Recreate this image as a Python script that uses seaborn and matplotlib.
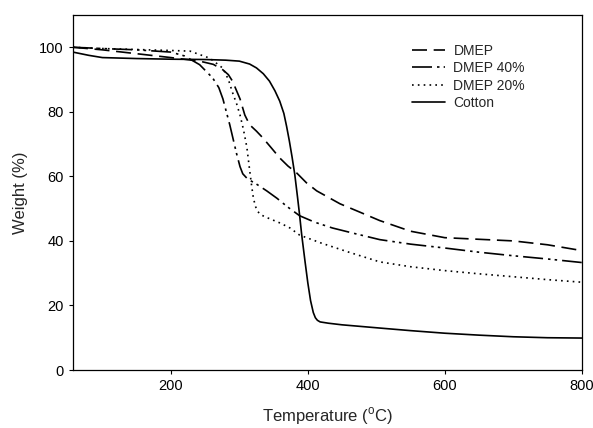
import pandas as pd
import numpy as np
import matplotlib
matplotlib.use("Agg")
import matplotlib.pyplot as plt
import seaborn as sns

# ===================== Data =====================
dmep_t = [57, 100, 150, 200, 242, 262, 276, 284, 290, 296, 301, 308, 315, 325, 334,
          346, 359, 371, 384, 398, 413, 430, 447, 475, 505, 550, 600, 650, 700, 750, 800]
dmep_w = [100, 99.2, 98, 96.8, 95.7, 94.7, 93, 91.5, 89.5, 86.5, 84, 79, 76, 74, 72,
          69, 65.7, 63.2, 61, 58, 55.5, 53.5, 51.5, 49, 46.3, 43, 41, 40.5, 40, 38.8, 37]

dmep40_t = [57, 100, 150, 200, 220, 242, 261, 270, 276, 281, 286, 291, 296, 301, 305,
            312, 325, 340, 355, 370, 388, 410, 436, 470, 505, 550, 600, 650, 700, 750, 800]
dmep40_w = [100, 99.6, 99.2, 98.5, 97.3, 94.6, 90.5, 87.5, 84, 80, 76, 71.5, 67, 63, 60.8,
            59.2, 57.6, 55.5, 53.2, 50.6, 47.8, 45.8, 44, 42.2, 40.4, 39, 37.8, 36.5, 35.4, 34.4, 33.3]

dmep20_t = [57, 100, 150, 200, 228, 257, 276, 284, 290, 296, 301, 306, 311, 315, 318,
            320, 323, 326, 330, 337, 344, 360, 374, 388, 420, 460, 505, 550, 600, 650, 700, 750, 800]
dmep20_w = [100, 99.6, 99.3, 99, 98.8, 96.6, 93.5, 90, 86, 82.5, 79, 74.5, 69, 62, 57,
            54, 51, 49.4, 48.3, 47.5, 46.9, 45.5, 44, 41.8, 39.3, 36.5, 33.5, 32, 30.8, 29.8, 28.9, 28, 27.2]

cotton_t = [57, 80, 100, 150, 200, 250, 280, 300, 315, 325, 335, 344, 352, 359, 365,
            369, 373, 377, 381, 385, 388, 391, 396, 400, 404, 408, 411, 414, 418, 430,
            450, 505, 550, 600, 650, 700, 750, 800]
cotton_w = [98.5, 97.5, 96.8, 96.5, 96.3, 96.2, 96, 95.7, 94.8, 93.6, 91.8, 89.5, 86.5, 83.3, 79.5,
            75.5, 71, 66, 60.5, 53.5, 48, 42, 33.5, 27, 21.5, 17.8, 16.2, 15.4, 14.9, 14.5,
            14, 13, 12.2, 11.4, 10.8, 10.3, 10, 9.9]

labels = ["DMEP", "DMEP 40%", "DMEP 20%", "Cotton"]

# ===================== Style =====================
sns.set_style("ticks")
plt.rcParams['font.family'] = ['Liberation Sans', 'DejaVu Sans']
plt.rcParams['mathtext.fontset'] = 'custom'
plt.rcParams['mathtext.rm'] = 'Liberation Sans'

series = [
    (dmep_t, dmep_w, (0, (9, 4))),
    (dmep40_t, dmep40_w, (0, (12, 3, 1.5, 2.5, 1.5, 3))),
    (dmep20_t, dmep20_w, (0, (1, 2.5))),
    (cotton_t, cotton_w, "-"),
]

fig = plt.figure(figsize=(5.93, 4.28), dpi=100)
ax = fig.add_axes([0.123, 0.1355, 0.858, 0.8295])

for (t, w, ls), name in zip(series, labels):
    df = pd.DataFrame({"Temperature": t, "Weight": w})
    sns.lineplot(data=df, x="Temperature", y="Weight", ax=ax, color="black",
                 linewidth=1.2, linestyle=ls, label=name, sort=False)

ax.set_xlim(57, 800)
ax.set_ylim(0, 110)
ax.set_xticks([200, 400, 600, 800])
ax.set_yticks([0, 20, 40, 60, 80, 100])
ax.tick_params(labelsize=10.5, direction="out", length=3, width=0.8, colors="black")
for s in ax.spines.values():
    s.set_linewidth(0.9)
    s.set_color("black")

ax.set_xlabel(r"Temperature ($^{\rm o}$C)", fontsize=12, labelpad=9)
ax.set_ylabel("Weight (%)", fontsize=12, labelpad=8)

leg = ax.legend(loc="upper left", bbox_to_anchor=(0.655, 0.935), frameon=False,
                fontsize=10, handlelength=2.4, handletextpad=0.6, labelspacing=0.25,
                borderaxespad=0)

fig.savefig("out.png", dpi=100)
